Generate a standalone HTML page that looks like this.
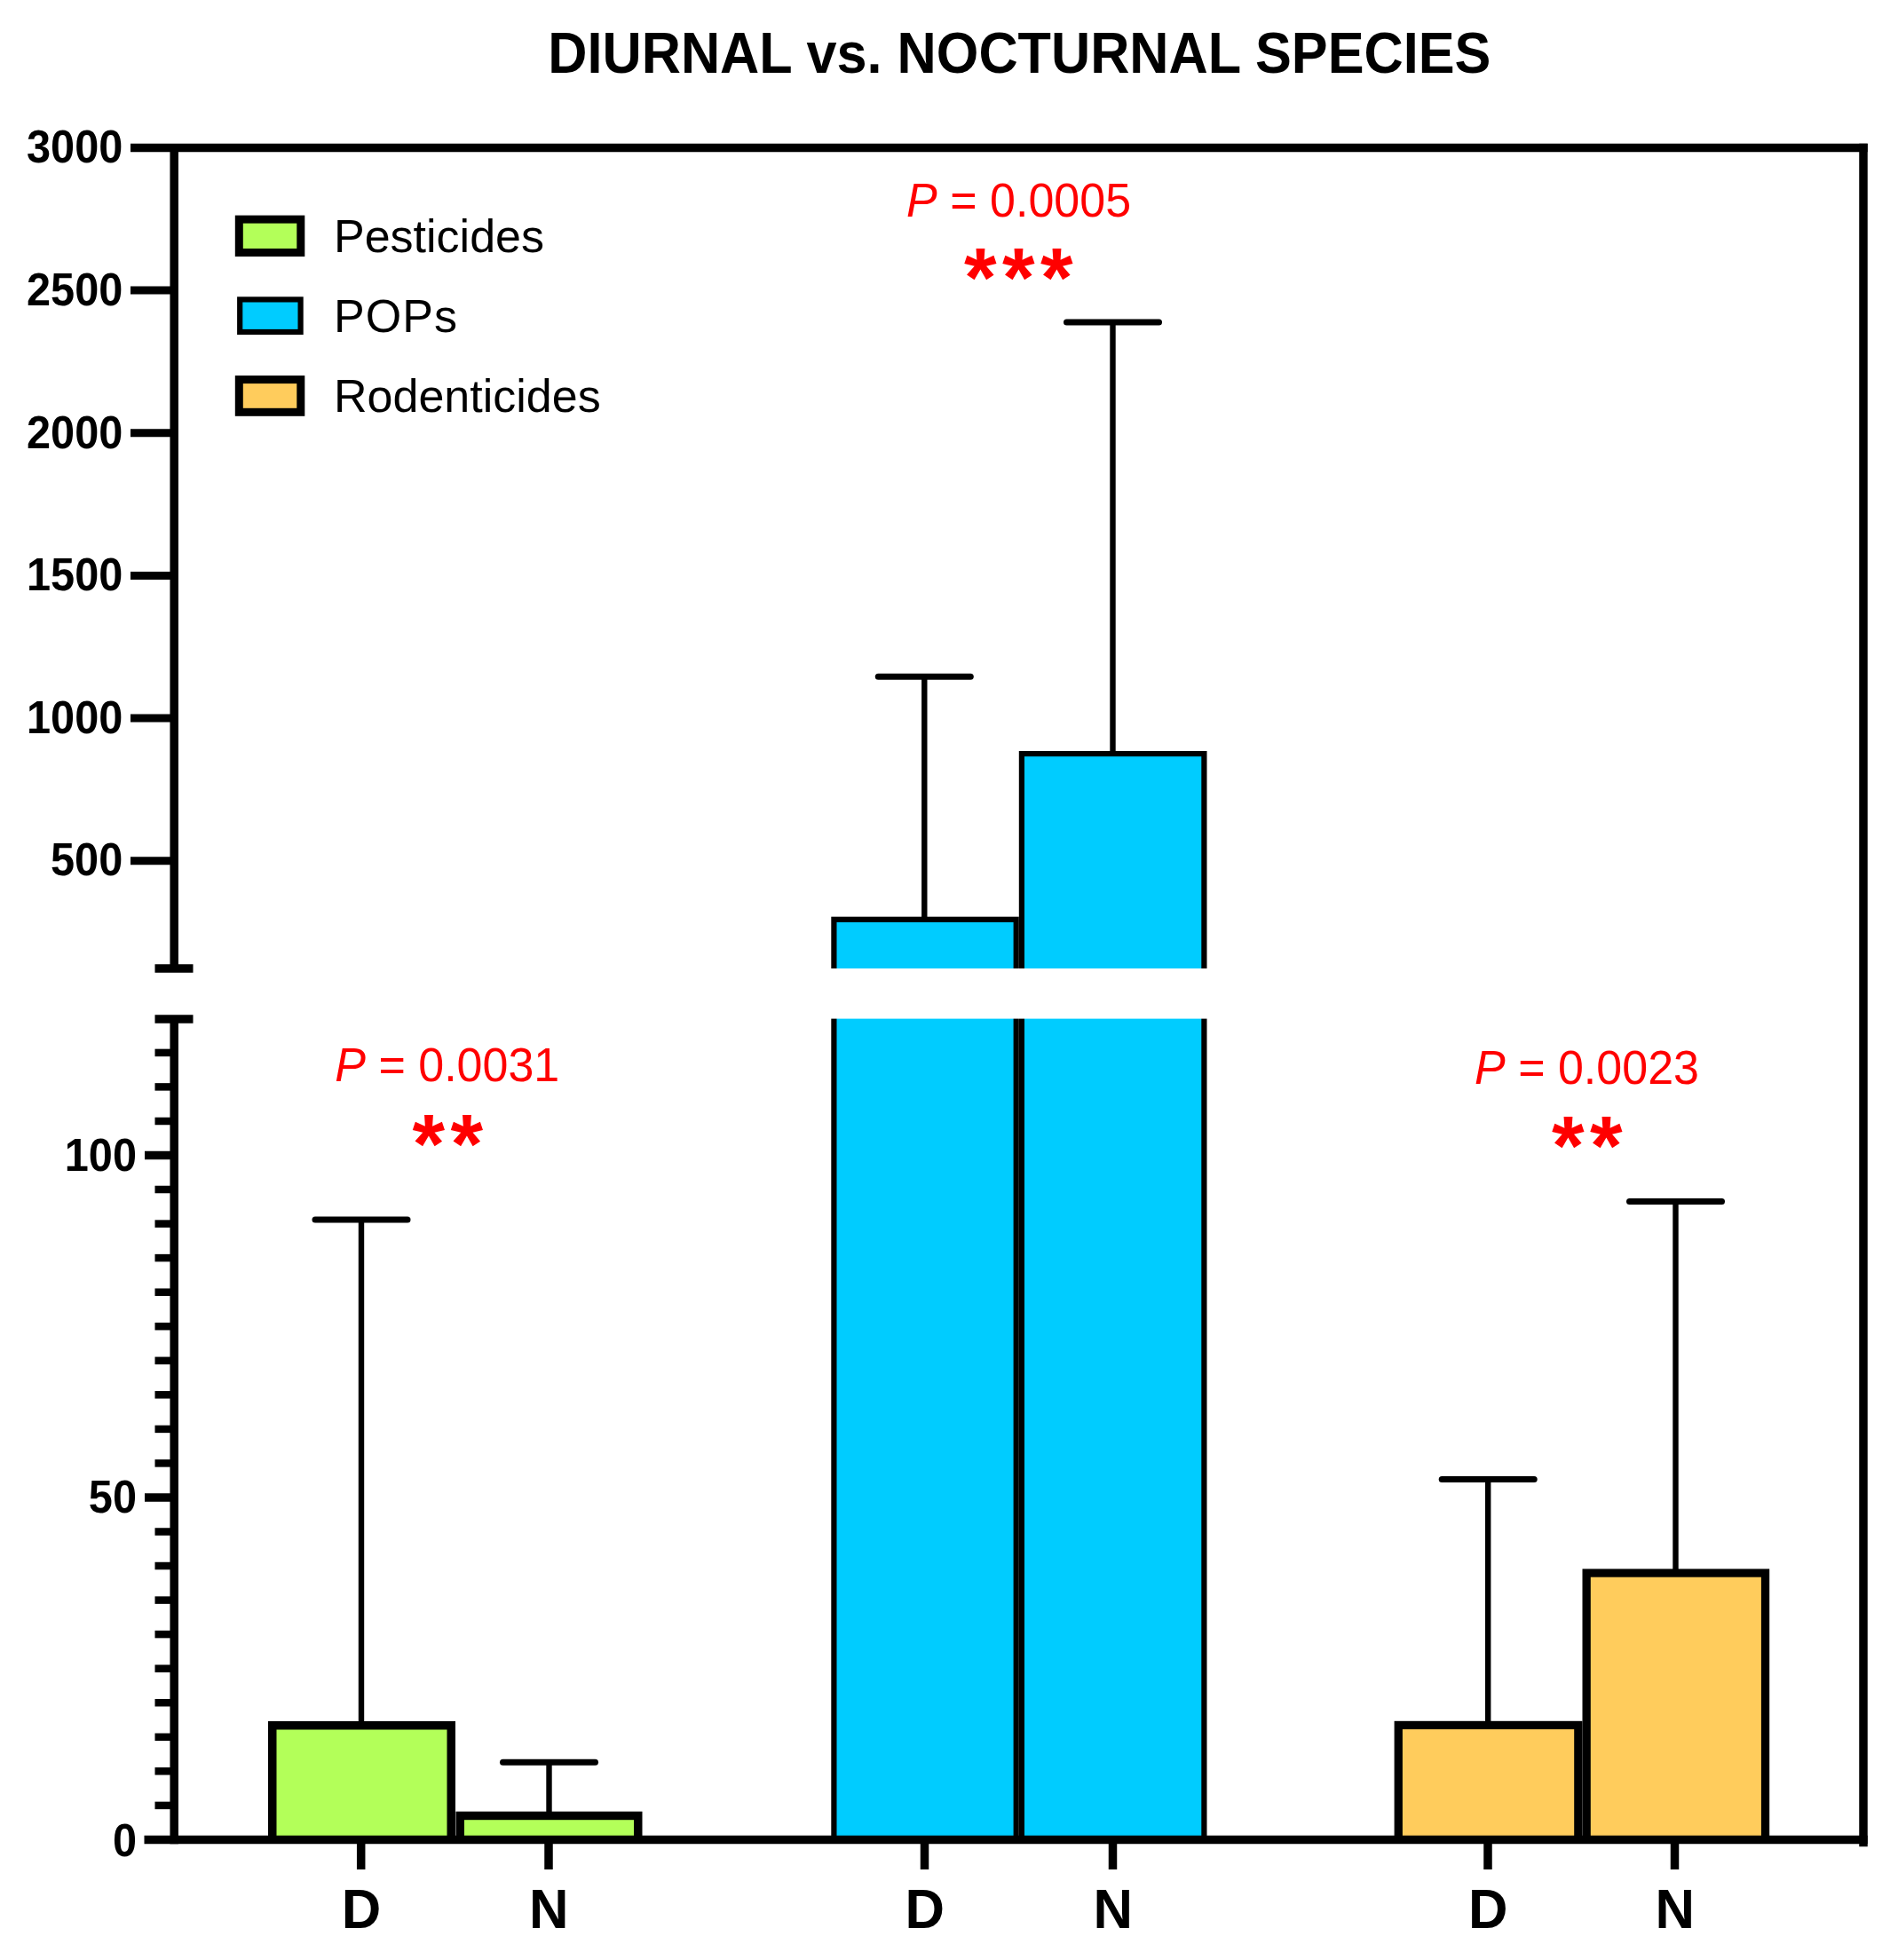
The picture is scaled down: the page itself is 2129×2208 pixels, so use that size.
<!DOCTYPE html>
<html lang="en"><head><meta charset="utf-8"><title>DIURNAL vs. NOCTURNAL SPECIES</title>
<style>html,body{margin:0;padding:0;background:#fff}body{width:2129px;height:2208px;overflow:hidden}svg{display:block}</style>
</head><body>
<svg width="2129" height="2208" viewBox="0 0 2129 2208">
<rect x="0" y="0" width="2129" height="2208" fill="#ffffff"/>
<line x1="407" y1="1374" x2="407" y2="1945" stroke="#000" stroke-width="6.4"/>
<line x1="355" y1="1374" x2="459" y2="1374" stroke="#000" stroke-width="7" stroke-linecap="round"/>
<line x1="618.5" y1="1985.2" x2="618.5" y2="2046" stroke="#000" stroke-width="6.4"/>
<line x1="566.5" y1="1985.2" x2="670.5" y2="1985.2" stroke="#000" stroke-width="7" stroke-linecap="round"/>
<line x1="1041.3" y1="762.2" x2="1041.3" y2="1037" stroke="#000" stroke-width="6.4"/>
<line x1="989.3" y1="762.2" x2="1093.3" y2="762.2" stroke="#000" stroke-width="7" stroke-linecap="round"/>
<line x1="1253.5" y1="363.1" x2="1253.5" y2="850" stroke="#000" stroke-width="6.4"/>
<line x1="1201.5" y1="363.1" x2="1305.5" y2="363.1" stroke="#000" stroke-width="7" stroke-linecap="round"/>
<line x1="1676.2" y1="1666.6" x2="1676.2" y2="1944" stroke="#000" stroke-width="6.4"/>
<line x1="1624.2" y1="1666.6" x2="1728.2" y2="1666.6" stroke="#000" stroke-width="7" stroke-linecap="round"/>
<line x1="1887.5" y1="1353.5" x2="1887.5" y2="1773" stroke="#000" stroke-width="6.4"/>
<line x1="1835.5" y1="1353.5" x2="1939.5" y2="1353.5" stroke="#000" stroke-width="7" stroke-linecap="round"/>
<rect x="302" y="1939" width="211.00" height="133.40" fill="#000"/>
<rect x="311.50" y="1948.50" width="192.00" height="123.90" fill="#B3FF59"/>
<rect x="513.5" y="2040.7" width="210.00" height="31.70" fill="#000"/>
<rect x="523.00" y="2050.20" width="191.00" height="22.20" fill="#B3FF59"/>
<rect x="936.3" y="1032.7" width="211.50" height="1039.70" fill="#000"/>
<rect x="942.50" y="1038.90" width="199.10" height="1033.50" fill="#00CCFF"/>
<rect x="1147.8" y="846" width="211.70" height="1226.40" fill="#000"/>
<rect x="1154.00" y="852.20" width="199.30" height="1220.20" fill="#00CCFF"/>
<rect x="1570.6" y="1938.8" width="211.90" height="133.60" fill="#000"/>
<rect x="1579.90" y="1948.10" width="193.30" height="124.30" fill="#FFCC5C"/>
<rect x="1782.5" y="1767.4" width="210.70" height="305.00" fill="#000"/>
<rect x="1791.80" y="1776.70" width="192.10" height="295.70" fill="#FFCC5C"/>
<rect x="925" y="1091" width="445" height="56.6" fill="#fff"/>
<g stroke="#000" stroke-width="9.5" fill="none">
<line x1="147" y1="166.5" x2="2103.75" y2="166.5"/>
<line x1="2099" y1="161.75" x2="2099" y2="2080.3"/>
<line x1="162.5" y1="2072.4" x2="2103.75" y2="2072.4" stroke-width="9.5"/>
<line x1="196.2" y1="166.5" x2="196.2" y2="1091"/>
<line x1="196.2" y1="1148" x2="196.2" y2="2077.15"/>
<line x1="174.5" y1="1091" x2="217.5" y2="1091" stroke-width="9.5"/>
<line x1="174.5" y1="1148" x2="217.5" y2="1148" stroke-width="9.5"/>
</g>
<g stroke="#000" stroke-width="9">
<line x1="147" y1="327.1" x2="196.2" y2="327.1"/>
<line x1="147" y1="487.8" x2="196.2" y2="487.8"/>
<line x1="147" y1="648.4" x2="196.2" y2="648.4"/>
<line x1="147" y1="809.1" x2="196.2" y2="809.1"/>
<line x1="147" y1="969.7" x2="196.2" y2="969.7"/>
</g>
<g stroke="#000" stroke-width="8.5">
<line x1="174.5" y1="2033.9" x2="196.2" y2="2033.9"/>
<line x1="174.5" y1="1995.3" x2="196.2" y2="1995.3"/>
<line x1="174.5" y1="1956.8" x2="196.2" y2="1956.8"/>
<line x1="174.5" y1="1918.2" x2="196.2" y2="1918.2"/>
<line x1="174.5" y1="1879.7" x2="196.2" y2="1879.7"/>
<line x1="174.5" y1="1841.1" x2="196.2" y2="1841.1"/>
<line x1="174.5" y1="1802.6" x2="196.2" y2="1802.6"/>
<line x1="174.5" y1="1764.0" x2="196.2" y2="1764.0"/>
<line x1="174.5" y1="1725.5" x2="196.2" y2="1725.5"/>
<line x1="163" y1="1687.0" x2="196.2" y2="1687.0" stroke-width="9.5"/>
<line x1="174.5" y1="1648.4" x2="196.2" y2="1648.4"/>
<line x1="174.5" y1="1609.9" x2="196.2" y2="1609.9"/>
<line x1="174.5" y1="1571.3" x2="196.2" y2="1571.3"/>
<line x1="174.5" y1="1532.8" x2="196.2" y2="1532.8"/>
<line x1="174.5" y1="1494.2" x2="196.2" y2="1494.2"/>
<line x1="174.5" y1="1455.7" x2="196.2" y2="1455.7"/>
<line x1="174.5" y1="1417.1" x2="196.2" y2="1417.1"/>
<line x1="174.5" y1="1378.6" x2="196.2" y2="1378.6"/>
<line x1="174.5" y1="1340.0" x2="196.2" y2="1340.0"/>
<line x1="163" y1="1301.5" x2="196.2" y2="1301.5" stroke-width="9.5"/>
<line x1="174.5" y1="1263.0" x2="196.2" y2="1263.0"/>
<line x1="174.5" y1="1224.4" x2="196.2" y2="1224.4"/>
<line x1="174.5" y1="1185.9" x2="196.2" y2="1185.9"/>
</g>
<g stroke="#000" stroke-width="9.5">
<line x1="406.7" y1="2072.4" x2="406.7" y2="2106"/>
<line x1="618" y1="2072.4" x2="618" y2="2106"/>
<line x1="1041.5" y1="2072.4" x2="1041.5" y2="2106"/>
<line x1="1253.5" y1="2072.4" x2="1253.5" y2="2106"/>
<line x1="1676" y1="2072.4" x2="1676" y2="2106"/>
<line x1="1886.5" y1="2072.4" x2="1886.5" y2="2106"/>
</g>
<g font-family="Liberation Sans, Arial, Helvetica, sans-serif" font-weight="bold" font-size="51" text-anchor="end" fill="#000">
<text transform="translate(138.3,183.2) scale(0.955,1)">3000</text>
<text transform="translate(138.3,343.8) scale(0.955,1)">2500</text>
<text transform="translate(138.3,504.5) scale(0.955,1)">2000</text>
<text transform="translate(138.3,665.1) scale(0.955,1)">1500</text>
<text transform="translate(138.3,825.8) scale(0.955,1)">1000</text>
<text transform="translate(138.3,986.4) scale(0.955,1)">500</text>
<text transform="translate(154.0,1318.5) scale(0.955,1)">100</text>
<text transform="translate(154.0,1704.0) scale(0.955,1)">50</text>
<text transform="translate(154.0,2090.9) scale(0.955,1)">0</text>
</g>
<g font-family="Liberation Sans, Arial, Helvetica, sans-serif" font-weight="bold" font-size="63.2" text-anchor="middle" fill="#000">
<text transform="translate(406.9,2172.3) scale(0.975,1)">D</text>
<text transform="translate(618.2,2172.3) scale(0.975,1)">N</text>
<text transform="translate(1041.7,2172.3) scale(0.975,1)">D</text>
<text transform="translate(1253.7,2172.3) scale(0.975,1)">N</text>
<text transform="translate(1676.2,2172.3) scale(0.975,1)">D</text>
<text transform="translate(1886.7,2172.3) scale(0.975,1)">N</text>
</g>
<text font-family="Liberation Sans, Arial, Helvetica, sans-serif" font-weight="bold" font-size="64.5" text-anchor="middle" transform="translate(1148.3,82) scale(0.949,1)" fill="#000">DIURNAL vs. NOCTURNAL SPECIES</text>
<rect x="264.8" y="242.6" width="78.50" height="46.40" fill="#000"/>
<rect x="273.8" y="251.6" width="60.50" height="28.40" fill="#B3FF59"/>
<rect x="267.1" y="334.3" width="74.60" height="42.80" fill="#000"/>
<rect x="273.3" y="340.5" width="62.20" height="30.40" fill="#00CCFF"/>
<rect x="264.8" y="423.1" width="78.50" height="45.70" fill="#000"/>
<rect x="273.8" y="432.1" width="60.50" height="27.70" fill="#FFCC5C"/>
<g font-family="Liberation Sans, Arial, Helvetica, sans-serif" font-size="52" fill="#000">
<text x="376" y="283.8">Pesticides</text>
<text x="376" y="373.6" textLength="139" lengthAdjust="spacing">POPs</text>
<text x="376" y="464">Rodenticides</text>
</g>
<g font-family="Liberation Sans, Arial, Helvetica, sans-serif" font-size="53.5" fill="#FF0000" text-anchor="middle">
<text transform="translate(1147.6,244.0) scale(0.972,1)"><tspan font-style="italic">P</tspan> = 0.0005</text>
<text transform="translate(503.8,1218.2) scale(0.972,1)"><tspan font-style="italic">P</tspan> = 0.0031</text>
<text transform="translate(1787.5,1221.0) scale(0.972,1)"><tspan font-style="italic">P</tspan> = 0.0023</text>
</g>
<g font-family="Liberation Sans, Arial, Helvetica, sans-serif" font-size="94" font-weight="bold" fill="#FF0000" letter-spacing="6.4">
<text x="1086" y="345.3">***</text>
<text x="464.5" y="1320.5">**</text>
<text x="1748" y="1323.3">**</text>
</g>
</svg>
</body></html>
